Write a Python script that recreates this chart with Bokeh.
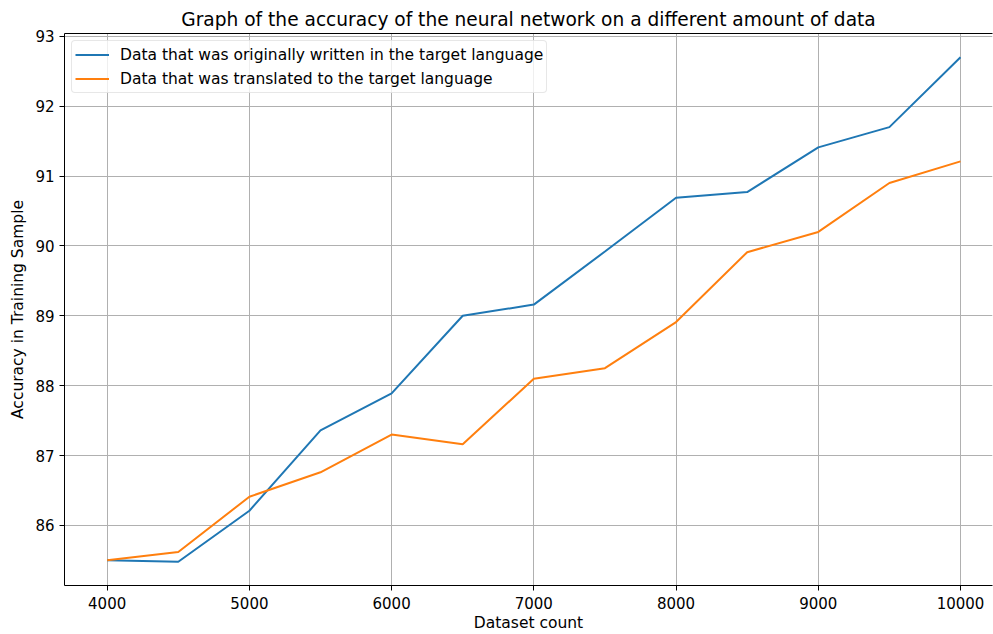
from bokeh.plotting import figure
from bokeh.models import Range1d, FixedTicker, BasicTickFormatter, LinearAxis, Legend, LegendItem
from bokeh.embed import file_html
from bokeh.resources import INLINE

# Data
dataset_counts = [4000, 4500, 5000, 5500, 6000, 6500, 7000, 7500, 8000, 8500, 9000, 9500, 10000]
original_acc = [85.50, 85.48, 86.21, 87.36, 87.89, 89.00, 89.16, 89.92, 90.69, 90.77, 91.41, 91.70, 92.70]
translated_acc = [85.50, 85.62, 86.41, 86.76, 87.30, 87.16, 88.10, 88.25, 88.91, 89.91, 90.20, 90.90, 91.21]
x_ticks = [4000, 5000, 6000, 7000, 8000, 9000, 10000]
y_ticks = [86, 87, 88, 89, 90, 91, 92, 93]
title_text = "Graph of the accuracy of the neural network on a different amount of data"
x_label = "Dataset count"
y_label = "Accuracy in Training Sample"
series_names = ["Data that was originally written in the target language",
                "Data that was translated to the target language"]

FONT = "DejaVu Sans"

p = figure(width=993, height=634, output_backend="svg", toolbar_location=None,
           x_range=Range1d(3700, 10225), y_range=Range1d(85.14, 93.04),
           title=title_text,
           min_border_left=64, min_border_right=1, min_border_top=33, min_border_bottom=48)

p.title.align = "center"
p.title.text_font = FONT
p.title.text_font_size = "18.6px"
p.title.text_font_style = "normal"
p.title.text_color = "#000000"
p.title.standoff = 8

p.outline_line_color = None
p.background_fill_color = "white"
p.border_fill_color = "white"

for ax in (p.xaxis[0], p.yaxis[0]):
    ax.axis_line_color = "black"
    ax.axis_line_width = 1
    ax.major_tick_out = 5
    ax.major_tick_in = 0
    ax.minor_tick_line_color = None
    ax.major_tick_line_color = "black"
    ax.major_label_text_font = FONT
    ax.major_label_text_font_size = "15px"
    ax.major_label_text_color = "#000000"
    ax.axis_label_text_font = FONT
    ax.axis_label_text_font_size = "15.5px"
    ax.axis_label_text_font_style = "normal"
    ax.axis_label_text_color = "#000000"
    ax.formatter = BasicTickFormatter(use_scientific=False)

p.xaxis[0].ticker = FixedTicker(ticks=x_ticks)
p.yaxis[0].ticker = FixedTicker(ticks=y_ticks)
p.xaxis[0].axis_label = x_label
p.yaxis[0].axis_label = y_label
p.xaxis[0].major_label_standoff = 6
p.xaxis[0].axis_label_standoff = 2
p.yaxis[0].major_label_standoff = 5
p.yaxis[0].axis_label_standoff = 5

# top spine
top = LinearAxis(ticker=FixedTicker(ticks=[]), major_label_text_font_size="0px",
                 major_tick_line_color=None, minor_tick_line_color=None,
                 major_tick_out=0, major_label_standoff=0,
                 axis_line_color="black")
p.add_layout(top, "above")

p.xgrid.ticker = FixedTicker(ticks=x_ticks)
p.ygrid.ticker = FixedTicker(ticks=y_ticks)
for g in (p.xgrid[0], p.ygrid[0]):
    g.grid_line_color = "#b0b0b0"
    g.grid_line_width = 1

r1 = p.line(dataset_counts, original_acc, line_color="#1f77b4", line_width=2)
r2 = p.line(dataset_counts, translated_acc, line_color="#ff7f0e", line_width=2)

legend = Legend(items=[LegendItem(label=series_names[0], renderers=[r1]),
                       LegendItem(label=series_names[1], renderers=[r2])],
                location="top_left")
legend.label_text_font = FONT
legend.label_text_font_size = "15.5px"
legend.label_text_color = "#000000"
legend.border_line_color = "#d0d0d0"
legend.border_line_width = 1
legend.border_radius = 4
legend.background_fill_alpha = 0.8
legend.glyph_width = 34
legend.glyph_height = 21
legend.label_height = 21
legend.label_standoff = 11
legend.padding = 3
legend.spacing = 3
legend.margin = 7
legend.label_text_baseline = "middle"
p.add_layout(legend, "center")

open("out.html", "w").write(file_html(p, INLINE))
